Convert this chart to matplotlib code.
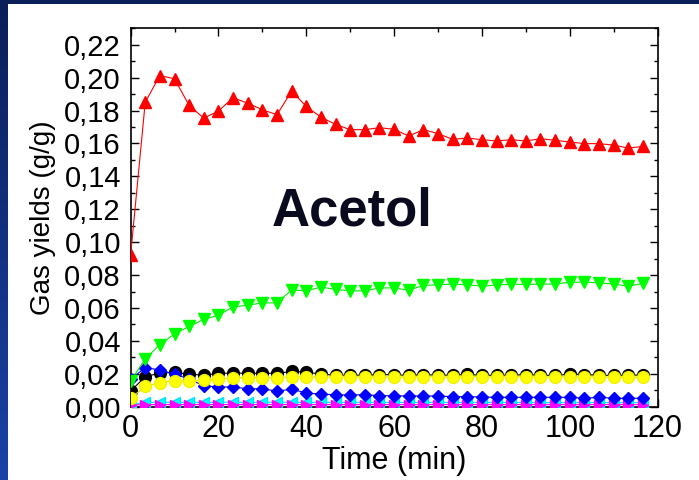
import numpy as np
import matplotlib
matplotlib.use("Agg")
import matplotlib.pyplot as plt
from matplotlib.patches import Rectangle
from matplotlib.colors import LinearSegmentedColormap
from matplotlib.ticker import FixedLocator, FixedFormatter, MultipleLocator

plt.rcParams['font.family'] = ['Liberation Sans', 'DejaVu Sans']

# ---------------- data ----------------
time_min = [i * 10.0 / 3.0 for i in range(36)]

red_up = [0.0921, 0.1851, 0.2013, 0.1993, 0.1831, 0.1754, 0.1797, 0.1878, 0.1845, 0.1805,
          0.1775, 0.1918, 0.1825, 0.1760, 0.1716, 0.1684, 0.1684, 0.1696, 0.1686, 0.1645,
          0.1684, 0.1660, 0.1625, 0.1633, 0.1623, 0.1615, 0.1623, 0.1615, 0.1629, 0.1619,
          0.1609, 0.1599, 0.1599, 0.1590, 0.1572, 0.1582]

green_down = [0.0156, 0.0290, 0.0378, 0.0443, 0.0488, 0.0531, 0.0555, 0.0607, 0.0617, 0.0631,
              0.0631, 0.0710, 0.0704, 0.0727, 0.0713, 0.0704, 0.0704, 0.0722, 0.0722, 0.0708,
              0.0737, 0.0741, 0.0745, 0.0741, 0.0733, 0.0739, 0.0745, 0.0743, 0.0745, 0.0745,
              0.0757, 0.0757, 0.0753, 0.0745, 0.0733, 0.0749]

blue_diamond = [0.0166, 0.0238, 0.0223, 0.0198, 0.0168, 0.0127, 0.0120, 0.0120, 0.0109, 0.0109,
                0.0095, 0.0106, 0.0084, 0.0076, 0.0073, 0.0071, 0.0073, 0.0067, 0.0066, 0.0065,
                0.0065, 0.0065, 0.0061, 0.0061, 0.0059, 0.0057, 0.0057, 0.0057, 0.0057, 0.0057,
                0.0057, 0.0051, 0.0057, 0.0051, 0.0051, 0.0051]

black_circle = [0.0095, 0.0182, 0.0205, 0.0208, 0.0198, 0.0192, 0.0202, 0.0205, 0.0203, 0.0203,
                0.0203, 0.0214, 0.0211, 0.0197, 0.0192, 0.0192, 0.0192, 0.0195, 0.0195, 0.0190,
                0.0195, 0.0192, 0.0192, 0.0197, 0.0190, 0.0192, 0.0192, 0.0195, 0.0192, 0.0190,
                0.0198, 0.0195, 0.0192, 0.0190, 0.0192, 0.0192]

yellow_circle = [0.0051, 0.0124, 0.0147, 0.0159, 0.0156, 0.0160, 0.0168, 0.0176, 0.0176, 0.0177,
                 0.0174, 0.0183, 0.0182, 0.0180, 0.0180, 0.0180, 0.0182, 0.0180, 0.0180, 0.0180,
                 0.0182, 0.0180, 0.0180, 0.0182, 0.0182, 0.0180, 0.0180, 0.0182, 0.0180, 0.0180,
                 0.0182, 0.0180, 0.0180, 0.0180, 0.0178, 0.0180]

cyan_left = [0.0012, 0.0026, 0.0027, 0.0027, 0.0027, 0.0026, 0.0027, 0.0027, 0.0026, 0.0027,
             0.0027, 0.0027, 0.0026, 0.0027, 0.0026, 0.0026, 0.0027, 0.0026, 0.0026, 0.0026,
             0.0026, 0.0026, 0.0026, 0.0025, 0.0026, 0.0026, 0.0025, 0.0026, 0.0025, 0.0025,
             0.0025, 0.0025, 0.0025, 0.0025, 0.0025, 0.0025]

magenta_right = [0.0010, 0.0013, 0.0013, 0.0013, 0.0013, 0.0013, 0.0013, 0.0013, 0.0013, 0.0013,
                 0.0013, 0.0013, 0.0013, 0.0013, 0.0013, 0.0013, 0.0013, 0.0013, 0.0013, 0.0013,
                 0.0013, 0.0013, 0.0013, 0.0013, 0.0013, 0.0013, 0.0013, 0.0013, 0.0013, 0.0013,
                 0.0013, 0.0013, 0.0013, 0.0013, 0.0013, 0.0013]

x_ticks = [0, 20, 40, 60, 80, 100, 120]
x_tick_labels = ['0', '20', '40', '60', '80', '100', '120']
y_ticks = [0.00, 0.02, 0.04, 0.06, 0.08, 0.10, 0.12, 0.14, 0.16, 0.18, 0.20, 0.22]
y_tick_labels = ['0,00', '0,02', '0,04', '0,06', '0,08', '0,10', '0,12', '0,14',
                 '0,16', '0,18', '0,20', '0,22']

# ---------------- figure ----------------
W, H = 699, 480
fig = plt.figure(figsize=(W / 100, H / 100), dpi=100)

# navy gradient background with white panel
bg = fig.add_axes([0, 0, 1, 1], zorder=-10)
grad = np.linspace(0, 1, 256).reshape(-1, 1)
cmap = LinearSegmentedColormap.from_list('navy', ['#0a1f58', '#1a43a6'])
bg.imshow(grad, aspect='auto', cmap=cmap, extent=[0, 1, 1, 0])
bg.add_patch(Rectangle((8 / W, 0), 1, 1 - 4 / H, transform=bg.transAxes,
                       facecolor='white', edgecolor='none'))
bg.set_xlim(0, 1)
bg.set_ylim(1, 0)
bg.axis('off')

ax = fig.add_axes([130.6 / W, 1 - 406.7 / H, (657.6 - 130.6) / W, (406.7 - 28.3) / H])
ax.set_facecolor('white')

lw = 0.8
ax.plot(time_min, black_circle, '-', color='black', lw=lw, marker='o', ms=8.5,
        mfc='black', mec='black', zorder=3)
ax.plot(time_min, yellow_circle, '-', color='#e0e000', lw=lw, marker='o', ms=8.5,
        mfc='#ffff00', mec='#f0f000', zorder=4)
ax.plot(time_min, blue_diamond, '-', color='#0000ff', lw=lw, marker='D', ms=6.5,
        mfc='#0000ff', mec='#0000ff', zorder=3.5)
ax.plot(time_min, cyan_left, '-', color='#00e0ff', lw=lw, marker='<', ms=7.5,
        mfc='#00ffff', mec='#00e0ff', zorder=3)
ax.plot(time_min, magenta_right, '-', color='#ff00ff', lw=lw, marker='>', ms=7.5,
        mfc='#ff00ff', mec='#ff00ff', zorder=3.2)
ax.plot(time_min, green_down, '-', color='#00ee00', lw=lw, marker='v', ms=9,
        mfc='#00ff00', mec='#00ff00', zorder=5)
ax.plot(time_min, red_up, '-', color='#ff0000', lw=lw, marker='^', ms=9,
        mfc='#ff0000', mec='#ff0000', zorder=6)

ax.set_xlim(0, 120)
ax.set_ylim(0, 0.23)

ax.xaxis.set_major_locator(FixedLocator(x_ticks))
ax.xaxis.set_major_formatter(FixedFormatter(x_tick_labels))
ax.xaxis.set_minor_locator(MultipleLocator(10))
ax.yaxis.set_major_locator(FixedLocator(y_ticks))
ax.yaxis.set_major_formatter(FixedFormatter(y_tick_labels))
ax.yaxis.set_minor_locator(MultipleLocator(0.01))

ax.tick_params(which='both', direction='in', top=True, right=True, width=1.0, color='black')
ax.tick_params(which='major', length=5.5)
ax.tick_params(which='minor', length=3)
ax.tick_params(axis='x', which='major', labelsize=22, pad=5)
ax.tick_params(axis='y', which='major', labelsize=21, pad=7)
for s in ax.spines.values():
    s.set_linewidth(1.2)
    s.set_color('black')

ax.set_xlabel('Time (min)', fontsize=22, labelpad=2)
ax.set_ylabel('Gas yields (g/g)', fontsize=20, labelpad=6)

fig.text(352 / W, 1 - 211 / H, 'Acetol', fontsize=38, fontweight='bold',
         color='#0a0a1e', ha='center', va='center')

fig.savefig('out.png', dpi=100)
